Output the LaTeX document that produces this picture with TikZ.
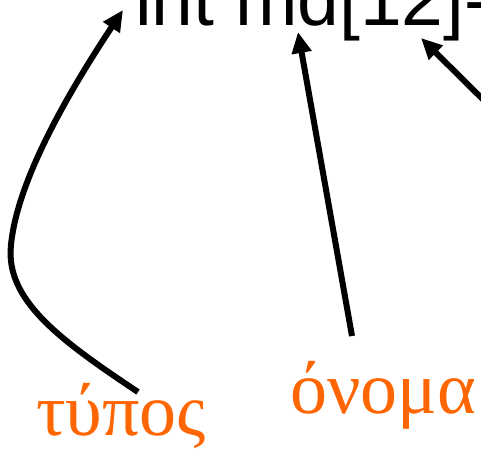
\documentclass[tikz,border=0pt]{standalone}
\usepackage{fontspec}
\setmainfont{Liberation Sans}
\newfontfamily\grk{Liberation Serif}
\usetikzlibrary{arrows.meta}
\definecolor{lbl}{HTML}{FF6600}
\begin{document}
\begin{tikzpicture}[x=1pt,y=-1pt,
  code/.style={anchor=base west,inner sep=0pt,font=\fontsize{75}{90}\selectfont},
  grlabel/.style={anchor=base west,inner sep=0pt,text=lbl,font=\grk\fontsize{74}{86}\selectfont},
  pointer/.style={line width=6pt,-{Triangle[length=21pt,width=19pt]}}]
\clip (0,0) rectangle (481,456);
\node[code] (decl) at (135,25) {int md[12]-};
\node[grlabel] (typos) at (36,435) {τύπος};
\node[grlabel] (onoma) at (290,413) {όνομα};
\coordinate (typeStart) at (138,392);
\coordinate (typeTip) at (123,10);
\coordinate (nameStart) at (352,336);
\coordinate (nameTip) at (298,32);
\coordinate (sizeStart) at (535,151);
\coordinate (sizeTip) at (421,38);
\draw[pointer] (typeStart) .. controls (60,340) and (5,300) .. (11,245)
  .. controls (17,180) and (70,90) .. (typeTip);
\draw[pointer] (nameStart) -- (nameTip);
\draw[pointer] (sizeStart) -- (sizeTip);
\end{tikzpicture}
\end{document}
